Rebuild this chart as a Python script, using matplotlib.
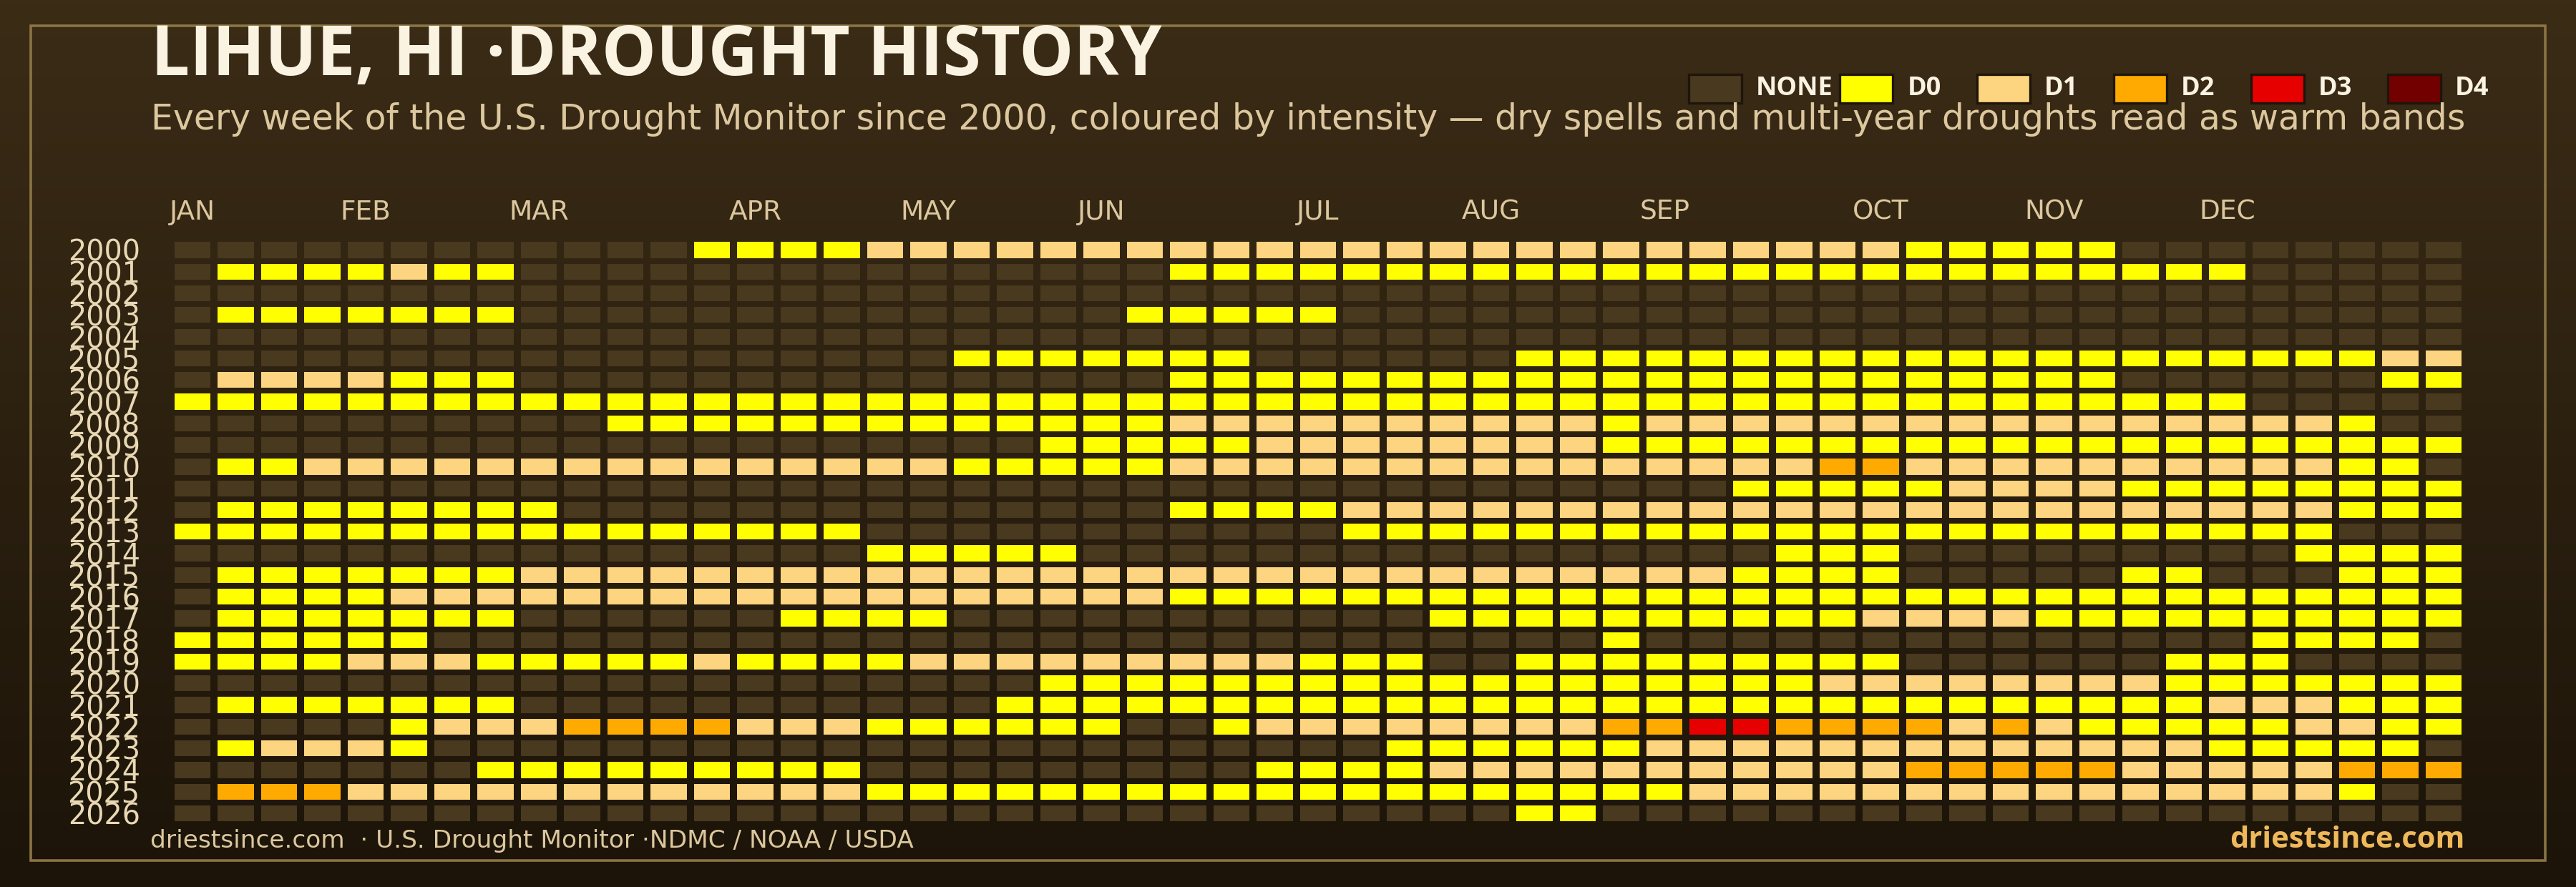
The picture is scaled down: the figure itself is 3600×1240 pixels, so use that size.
"""Lihue, HI drought history heatmap (weekly USDM categories, 2000-2026)"""
import numpy as np
import matplotlib
matplotlib.use("Agg")
import matplotlib.pyplot as plt
from matplotlib.colors import LinearSegmentedColormap
from matplotlib.patches import Rectangle


YEARS = list(range(2000, 2027))
MONTHS = ["JAN", "FEB", "MAR", "APR", "MAY", "JUN",
          "JUL", "AUG", "SEP", "OCT", "NOV", "DEC"]
MONTH_START_WEEK = [0, 4, 8, 13, 17, 21, 26, 30, 34, 39, 43, 47]
N_WEEKS = 53

LEVELS = ["NONE", "D0", "D1", "D2", "D3", "D4"]
LEVEL_COLORS = ["#48391f", "#ffff00", "#fdd47f", "#ffaa00", "#e60000", "#730000"]
# one string per year, one char per week: "." = none, "0".."4" = D0..D4
CODE_INDEX = {".": 0, "0": 1, "1": 2, "2": 3, "3": 4, "4": 5}

WEEKLY = [
    ".........." "..00001111" "1111111111" "1111111111" "00000....." "...",  # 2000
    ".0000100.." ".........." "...0000000" "0000000000" "00000000.." "...",  # 2001
    ".........." ".........." ".........." ".........." ".........." "...",  # 2002
    ".0000000.." ".........." "..00000..." ".........." ".........." "...",  # 2003
    ".........." ".........." ".........." ".........." ".........." "...",  # 2004
    ".........." "........00" "00000....." ".000000000" "0000000000" "011",  # 2005
    ".1111000.." ".........." "...0000000" "0000000000" "00000....." ".00",  # 2006
    "0000000000" "0000000000" "0000000000" "0000000000" "00000000.." "...",  # 2007
    ".........." "0000000000" "0001111111" "1110111111" "1111111111" "0..",  # 2008
    ".........." ".........." "0000011111" "1110000000" "0000000000" "000",  # 2009
    ".001111111" "1111111100" "0001111111" "1111111122" "1111111111" "00.",  # 2010
    ".........." ".........." ".........." "......0000" "0111100000" "000",  # 2011
    ".00000000." ".........." "...0000111" "1111111111" "1111111111" "000",  # 2012
    "0000000000" "000000...." ".......000" "0000000000" "0000000000" "...",  # 2013
    ".........." "......0000" "0........." ".......000" ".........0" "000",  # 2014
    ".000000011" "1111111111" "1111111111" "1111110000" ".....00..." "000",  # 2015
    ".000011111" "1111111111" "1110000000" "0000000000" "0000000000" "000",  # 2016
    ".0000000.." "....0000.." ".........0" "0000000001" "1110000000" "000",  # 2017
    "000000...." ".........." ".........." "...0......" "........00" "00.",  # 2018
    "0000111000" "0010000111" "111111000." ".000000000" "......000." "...",  # 2019
    ".........." ".........." "0000000000" "0000000011" "1111110000" "000",  # 2020
    ".0000000.." ".........0" "0000000000" "0000000000" "0000000111" "000",  # 2021
    ".....01112" "2221110000" "00..011111" "1112233222" "2121000001" "100",  # 2022
    ".01110...." ".........." "........00" "0000111111" "1111111000" "00.",  # 2023
    ".......000" "000000...." ".....00001" "1111111111" "2222211111" "222",  # 2024
    ".222111111" "1111110000" "0000000000" "0000011111" "1111111111" "0..",  # 2025
    ".........." ".........." ".........." ".00......." ".........." "...",  # 2026
]

TITLE = "LIHUE, HI \u00b7DROUGHT HISTORY"
SUBTITLE = ("Every week of the U.S. Drought Monitor since 2000, coloured by intensity "
            "\u2014 dry spells and multi-year droughts read as warm bands")
SOURCE = "driestsince.com  \u00b7 U.S. Drought Monitor \u00b7NDMC / NOAA / USDA"
BRAND = "driestsince.com"

_BG_TOP = "#3b2c16"
_BG_BOTTOM = "#1c1409"
_FRAME = "#8a7443"
_TITLE = "#fbf3e2"
_TAN = "#dcc79e"
_YEAR = "#e8d8b4"
_GOLD = "#efb95b"
_BODY = ["DejaVu Sans"]
_HEAD = ["Open Sans", "DejaVu Sans"]

W, H = 3600, 1240
plt.rcParams["font.family"] = _HEAD

fig = plt.figure(figsize=(W / 200, H / 200), dpi=200)

# background gradient
bg = fig.add_axes([0, 0, 1, 1], zorder=0)
cmap = LinearSegmentedColormap.from_list("bg", [_BG_BOTTOM, _BG_TOP])
bg.imshow(np.linspace(1, 0, 256).reshape(-1, 1), cmap=cmap, aspect="auto",
          extent=[0, 1, 0, 1])
bg.axis("off")

# frame
fig.add_artist(Rectangle((43 / W, 1 - 1203 / H), (3557 - 43) / W, (1203 - 36) / H,
                         transform=fig.transFigure, fill=False,
                         edgecolor=_FRAME, linewidth=1.3, zorder=1))

# heatmap grid
ax = fig.add_axes([238.75 / W, 1 - 1152.15 / H, 3206.5 / W, 817.8 / H], zorder=2)
ax.patch.set_alpha(0)
cell_w, cell_h = 0.835, 0.735
weeks = np.arange(N_WEEKS)
for r, row in enumerate(WEEKLY):
    assert len(row) == N_WEEKS, (YEARS[r], len(row))
    colors = [LEVEL_COLORS[CODE_INDEX[c]] for c in row]
    ax.bar(weeks, cell_h, width=cell_w, bottom=r - cell_h / 2,
           color=colors, linewidth=0)

ax.set_xlim(-0.5, N_WEEKS - 0.5)
ax.set_ylim(len(YEARS) - 0.5, -0.5)
ax.xaxis.tick_top()
ax.set_xticks(MONTH_START_WEEK)
ax.set_xticklabels(MONTHS, color=_TAN, fontsize=13.5, family=_BODY)
ax.set_yticks(range(len(YEARS)))
ax.set_yticklabels([str(y) for y in YEARS], color=_YEAR, fontsize=14.3, family=_BODY)
ax.tick_params(axis="x", length=0, pad=7)
ax.tick_params(axis="y", length=0, pad=15.5)
for spine in ax.spines.values():
    spine.set_visible(False)

# titles
fig.text(211 / W, 1 - 105 / H, TITLE, fontsize=34.5, fontweight="bold",
         color=_TITLE, va="baseline", zorder=3)
fig.text(211 / W, 1 - 181 / H, SUBTITLE, fontsize=17.6, color=_TAN,
         va="baseline", family=_BODY, zorder=3)

# legend
box_w, box_h = 74, 40
for i, (name, color) in enumerate(zip(LEVELS, LEVEL_COLORS)):
    x0 = 2360 + 191.4 * i + (20 if i > 0 else 0)
    fig.add_artist(Rectangle((x0 / W, 1 - 144 / H), box_w / W, box_h / H,
                             transform=fig.transFigure, facecolor=color,
                             edgecolor="#1e150a", linewidth=1.2, zorder=3))
    fig.text((x0 + box_w + 20) / W, 1 - 124 / H, name, fontsize=13,
             fontweight="bold", color=_TITLE, va="center", zorder=4)

# footer
fig.text(210 / W, 1 - 1185 / H, SOURCE, fontsize=12.4, color=_TAN,
         va="baseline", family=_BODY, zorder=3)
fig.text(3444 / W, 1 - 1185 / H, BRAND, fontsize=15, fontweight="bold",
         color=_GOLD, ha="right", va="baseline", zorder=3)

fig.savefig("out.png", dpi=200, facecolor=_BG_BOTTOM)
